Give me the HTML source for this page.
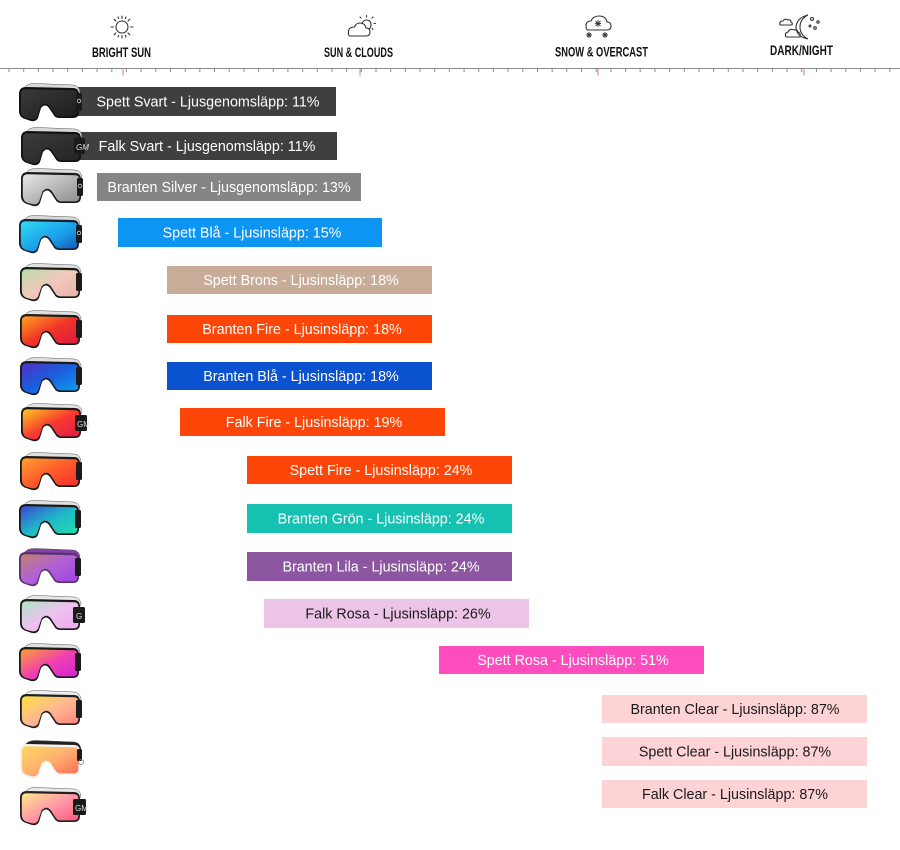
<!DOCTYPE html>
<html><head><meta charset="utf-8">
<style>
html,body{margin:0;padding:0;background:#fff;}
svg{display:block;}
.lbl{font-family:"Liberation Sans",Arial,sans-serif;font-size:14.3px;text-anchor:middle;}
.hd{font-family:"Liberation Sans Narrow","Liberation Sans",sans-serif;font-weight:bold;font-size:14px;fill:#111;}
</style></head>
<body>
<svg width="900" height="850" viewBox="0 0 900 850" xmlns="http://www.w3.org/2000/svg">
<defs>
  <linearGradient id="g1" x1="0" y1="0" x2="1" y2="1"><stop offset="0" stop-color="#3a3a3a"/><stop offset="1" stop-color="#1c1c1c"/></linearGradient>
  <linearGradient id="g2" x1="0" y1="0" x2="1" y2="1"><stop offset="0" stop-color="#3c3c3c"/><stop offset="1" stop-color="#222"/></linearGradient>
  <linearGradient id="g3" x1="0" y1="0" x2="1" y2="1"><stop offset="0" stop-color="#e8e8e8"/><stop offset="0.5" stop-color="#b8b8b8"/><stop offset="1" stop-color="#8a8a8a"/></linearGradient>
  <linearGradient id="g4" x1="0" y1="0" x2="1" y2="1"><stop offset="0" stop-color="#30d8f5"/><stop offset="0.6" stop-color="#1a9ce8"/><stop offset="1" stop-color="#1450b0"/></linearGradient>
  <linearGradient id="g5" x1="0" y1="0" x2="1" y2="1"><stop offset="0" stop-color="#b8dca8"/><stop offset="0.5" stop-color="#f2c8bc"/><stop offset="1" stop-color="#e8b0a8"/></linearGradient>
  <linearGradient id="g6" x1="0" y1="0" x2="1" y2="1"><stop offset="0" stop-color="#ffa020"/><stop offset="0.5" stop-color="#f03428"/><stop offset="1" stop-color="#d81840"/></linearGradient>
  <linearGradient id="g7" x1="0" y1="0" x2="1" y2="1"><stop offset="0" stop-color="#5030c0"/><stop offset="0.5" stop-color="#1860e0"/><stop offset="1" stop-color="#10a0f0"/></linearGradient>
  <linearGradient id="g8" x1="0" y1="0" x2="1" y2="1"><stop offset="0" stop-color="#ffc820"/><stop offset="0.5" stop-color="#f83a30"/><stop offset="1" stop-color="#e01848"/></linearGradient>
  <linearGradient id="g9" x1="0" y1="0" x2="1" y2="1"><stop offset="0" stop-color="#ffa030"/><stop offset="0.5" stop-color="#ff5a2a"/><stop offset="1" stop-color="#f02a30"/></linearGradient>
  <linearGradient id="g10" x1="0" y1="0" x2="1" y2="1"><stop offset="0" stop-color="#3a48d0"/><stop offset="0.5" stop-color="#20b8c8"/><stop offset="1" stop-color="#20e0a8"/></linearGradient>
  <linearGradient id="g11" x1="0" y1="0" x2="1" y2="1"><stop offset="0" stop-color="#c08070"/><stop offset="0.5" stop-color="#b060d8"/><stop offset="1" stop-color="#a040e0"/></linearGradient>
  <linearGradient id="g12" x1="0" y1="0" x2="1" y2="1"><stop offset="0" stop-color="#b0e4c4"/><stop offset="0.5" stop-color="#f0c0f0"/><stop offset="1" stop-color="#e8a8ec"/></linearGradient>
  <linearGradient id="g13" x1="0" y1="0" x2="1" y2="1"><stop offset="0" stop-color="#ffa030"/><stop offset="0.5" stop-color="#f040b0"/><stop offset="1" stop-color="#d020d8"/></linearGradient>
  <linearGradient id="g14" x1="0" y1="0" x2="1" y2="1"><stop offset="0" stop-color="#ffe040"/><stop offset="0.5" stop-color="#ffb890"/><stop offset="1" stop-color="#ff8080"/></linearGradient>
  <linearGradient id="g15" x1="0" y1="0" x2="1" y2="1"><stop offset="0" stop-color="#ffd860"/><stop offset="0.5" stop-color="#ffb070"/><stop offset="1" stop-color="#ff6850"/></linearGradient>
  <linearGradient id="g16" x1="0" y1="0" x2="1" y2="1"><stop offset="0" stop-color="#ffe888"/><stop offset="0.5" stop-color="#ff98a8"/><stop offset="1" stop-color="#ff5078"/></linearGradient>

  <g id="frame">
    <path d="M1,11 Q1,4 8,4 L55,5 Q61,5 61,12 L61,29 Q61,35 55,35 L41,35 Q37,35 35,31 L31,25 Q27,20 23,25 L20,35 Q18,39 13,38 L7,36 Q1,34 1,28 Z"/>
  </g>
  <g id="lens">
    <path d="M2.8,11 Q2.8,6.3 8,6.3 L55,7.3 Q59.4,7.3 59.4,12 L59.4,28.5 Q59.4,33.4 55,33.4 L41.5,33.4 Q38,33.4 36.2,30 L32,23.5 Q27.5,18 22.5,23.5 L19.2,33.2 Q17.5,37 13,36.3 L8,35 Q2.8,33.3 2.8,27.5 Z"/>
  </g>
</defs>

<!-- Header icons -->
<g fill="none" stroke="#333" stroke-width="1.1">
  <circle cx="122" cy="27" r="6"/>
  <g stroke-linecap="round">
    <line x1="122" y1="16" x2="122" y2="18.5"/><line x1="122" y1="35.5" x2="122" y2="38"/>
    <line x1="111" y1="27" x2="113.5" y2="27"/><line x1="130.5" y1="27" x2="133" y2="27"/>
    <line x1="114.2" y1="19.2" x2="116" y2="21"/><line x1="128" y1="33" x2="129.8" y2="34.8"/>
    <line x1="129.8" y1="19.2" x2="128" y2="21"/><line x1="116" y1="33" x2="114.2" y2="34.8"/>
    <line x1="118" y1="17" x2="118.6" y2="18.6"/><line x1="126" y1="17" x2="125.4" y2="18.6"/>
    <line x1="118" y1="37" x2="118.6" y2="35.4"/><line x1="126" y1="37" x2="125.4" y2="35.4"/>
  </g>
  <path d="M350,36 L366,36 Q370,36 370,32 Q370,28 366,28 Q365,23 360,23 Q356,23 354.5,27 Q349,27 348.5,31 Q348,36 350,36 Z"/>
  <path d="M362,24 Q363,20 366.5,20 Q371,20 371,25 Q371,27.5 369,29"/>
  <g stroke-linecap="round"><line x1="366.5" y1="15.5" x2="366.5" y2="17"/><line x1="372" y1="18" x2="373" y2="17"/><line x1="374" y1="23.5" x2="375.5" y2="23.5"/><line x1="361" y1="18" x2="360" y2="17"/><line x1="372" y1="28.5" x2="373" y2="29.5"/></g>
  <path d="M588,30 L607,30 Q611,30 611,26 Q611,22 607,22 Q606,16 599,16 Q593,16 591,21 Q586,21 586,25.5 Q586,30 588,30 Z"/>
  <g stroke-width="0.9"><line x1="598" y1="20" x2="598" y2="27"/><line x1="595" y1="23.5" x2="601" y2="23.5"/><line x1="595.5" y1="21" x2="600.5" y2="26"/><line x1="600.5" y1="21" x2="595.5" y2="26"/>
  <line x1="589" y1="32" x2="589" y2="38"/><line x1="586" y1="35" x2="592" y2="35"/><line x1="587" y1="33" x2="591" y2="37"/><line x1="591" y1="33" x2="587" y2="37"/>
  <line x1="605" y1="32" x2="605" y2="38"/><line x1="602" y1="35" x2="608" y2="35"/><line x1="603" y1="33" x2="607" y2="37"/><line x1="607" y1="33" x2="603" y2="37"/></g>
  <path d="M808,15 Q796,18 796,28 Q797,37 808,39 Q800,35 800,27 Q800,19 808,15 Z"/>
  <path d="M780,25 Q779,21 783,21 Q785,18 788,20 Q791,19 791,22 Q793,23 792,25 Z"/>
  <path d="M786,37 Q784,33 788,32 Q790,28 794,30 Q797,29 798,32 Q801,33 800,37 Z"/>
  <circle cx="812" cy="19" r="1.5"/><circle cx="818" cy="22" r="1.2"/><circle cx="810" cy="26" r="1"/><circle cx="815" cy="28" r="1.3"/>
</g>

<text class="hd" x="92" y="57" textLength="59" lengthAdjust="spacingAndGlyphs">BRIGHT SUN</text>
<text class="hd" x="324" y="57" textLength="69" lengthAdjust="spacingAndGlyphs">SUN &amp; CLOUDS</text>
<text class="hd" x="555" y="56.5" textLength="93" lengthAdjust="spacingAndGlyphs">SNOW &amp; OVERCAST</text>
<text class="hd" x="770" y="55" textLength="63" lengthAdjust="spacingAndGlyphs">DARK/NIGHT</text>

<!-- Ruler -->
<line x1="0" y1="68.5" x2="900" y2="68.5" stroke="#8a8a8a" stroke-width="1"/>
<g stroke="#8a8a8a" stroke-width="1">
<path d="M9,68.5v3.5M23.7,68.5v3.5M38.4,68.5v3.5M53,68.5v3.5M67.7,68.5v3.5M82.4,68.5v3.5M97.1,68.5v3.5M111.8,68.5v3.5M126.4,68.5v3.5M141.1,68.5v3.5M155.8,68.5v3.5M170.5,68.5v3.5M185.2,68.5v3.5M199.8,68.5v3.5M214.5,68.5v3.5M229.2,68.5v3.5M243.9,68.5v3.5M258.6,68.5v3.5M273.2,68.5v3.5M287.9,68.5v3.5M302.6,68.5v3.5M317.3,68.5v3.5M332,68.5v3.5M346.6,68.5v3.5M361.3,68.5v3.5M376,68.5v3.5M390.7,68.5v3.5M405.4,68.5v3.5M420,68.5v3.5M434.7,68.5v3.5M449.4,68.5v3.5M464.1,68.5v3.5M478.8,68.5v3.5M493.4,68.5v3.5M508.1,68.5v3.5M522.8,68.5v3.5M537.5,68.5v3.5M552.2,68.5v3.5M566.8,68.5v3.5M581.5,68.5v3.5M596.2,68.5v3.5M610.9,68.5v3.5M625.6,68.5v3.5M640.2,68.5v3.5M654.9,68.5v3.5M669.6,68.5v3.5M684.3,68.5v3.5M699,68.5v3.5M713.6,68.5v3.5M728.3,68.5v3.5M743,68.5v3.5M757.7,68.5v3.5M772.4,68.5v3.5M787,68.5v3.5M801.7,68.5v3.5M816.4,68.5v3.5M831.1,68.5v3.5M845.8,68.5v3.5M860.4,68.5v3.5M875.1,68.5v3.5M889.8,68.5v3.5"/>
</g>
<g stroke="#e07080" stroke-width="1">
<path d="M123,68.5v7M360,68.5v7M598,68.5v7M804,68.5v7"/>
</g>

<!-- Bars -->
<rect x="72" y="87" width="264" height="29" fill="#3f3f3f"/>
<rect x="73" y="132" width="264" height="28" fill="#3f3f3f"/>
<rect x="97" y="173" width="264" height="28" fill="#858585"/>
<rect x="118" y="218" width="264" height="29" fill="#0c95f2"/>
<rect x="167" y="266" width="265" height="28" fill="#c9ac98"/>
<rect x="167" y="315" width="265" height="28" fill="#fd4607"/>
<rect x="167" y="362" width="265" height="28" fill="#0b52d0"/>
<rect x="180" y="408" width="265" height="28" fill="#fd4607"/>
<rect x="247" y="456" width="265" height="28" fill="#fd4607"/>
<rect x="247" y="504" width="265" height="29" fill="#15c2b2"/>
<rect x="247" y="552" width="265" height="29" fill="#8c57a0"/>
<rect x="264" y="599" width="265" height="29" fill="#ecc4e8"/>
<rect x="439" y="646" width="265" height="28" fill="#fd4cbd"/>
<rect x="602" y="695" width="265" height="28" fill="#fdd3d6"/>
<rect x="602" y="737" width="265" height="29" fill="#fdd3d6"/>
<rect x="602" y="780" width="265" height="28" fill="#fdd3d6"/>

<g>
<text class="lbl" x="208" y="106.5" fill="#fff">Spett Svart - Ljusgenomsläpp: 11%</text>
<text class="lbl" x="207" y="151" fill="#fff">Falk Svart - Ljusgenomsläpp: 11%</text>
<text class="lbl" x="229" y="192" fill="#fff">Branten Silver - Ljusgenomsläpp: 13%</text>
<text class="lbl" x="252" y="237.5" fill="#fff">Spett Blå - Ljusinsläpp: 15%</text>
<text class="lbl" x="301" y="285" fill="#fff">Spett Brons - Ljusinsläpp: 18%</text>
<text class="lbl" x="302" y="334" fill="#fff">Branten Fire - Ljusinsläpp: 18%</text>
<text class="lbl" x="301" y="381" fill="#fff">Branten Blå - Ljusinsläpp: 18%</text>
<text class="lbl" x="314" y="427" fill="#fff">Falk Fire - Ljusinsläpp: 19%</text>
<text class="lbl" x="381" y="475" fill="#fff">Spett Fire - Ljusinsläpp: 24%</text>
<text class="lbl" x="381" y="523.5" fill="#fff">Branten Grön - Ljusinsläpp: 24%</text>
<text class="lbl" x="381" y="571.5" fill="#fff">Branten Lila - Ljusinsläpp: 24%</text>
<text class="lbl" x="398" y="618.5" fill="#1a1a1a">Falk Rosa - Ljusinsläpp: 26%</text>
<text class="lbl" x="573" y="665" fill="#fff">Spett Rosa - Ljusinsläpp: 51%</text>
<text class="lbl" x="735" y="714" fill="#1a1a1a">Branten Clear - Ljusinsläpp: 87%</text>
<text class="lbl" x="735" y="756.5" fill="#1a1a1a">Spett Clear - Ljusinsläpp: 87%</text>
<text class="lbl" x="735" y="799" fill="#1a1a1a">Falk Clear - Ljusinsläpp: 87%</text>
</g>

<!-- Goggles -->
<g id="goggles">
  <g transform="translate(18,83)">
    <path d="M6,5 Q9,0 18,0.5 L55,2 Q61,2.5 62,9 L61,11 Q59,6 53,6 L8,6 Z" fill="#d8d8d8" stroke="#555" stroke-width="0.5"/>
    <use href="#frame" fill="#111"/><use href="#lens" fill="url(#g1)"/>
    <rect x="58" y="10" width="6" height="18" rx="1.5" fill="#1a1a1a"/><circle cx="61" cy="18" r="1.8" fill="none" stroke="#ccc" stroke-width="0.8"/>
  </g>
  <g transform="translate(20,127)">
    <path d="M6,5 Q9,0 18,0.5 L55,2 Q61,2.5 62,9 L61,11 Q59,6 53,6 L8,6 Z" fill="#d8d8d8" stroke="#555" stroke-width="0.5"/>
    <use href="#frame" fill="#111"/><use href="#lens" fill="url(#g2)"/>
    <rect x="54" y="11" width="11" height="16" rx="1.5" fill="#1a1a1a"/><text x="56" y="23" font-family="Liberation Sans" font-size="8" font-style="italic" fill="#ddd">GM</text>
  </g>
  <g transform="translate(20,168)">
    <path d="M6,5 Q9,0 18,0.5 L55,2 Q61,2.5 62,9 L61,11 Q59,6 53,6 L8,6 Z" fill="#dcdcdc" stroke="#555" stroke-width="0.5"/>
    <use href="#frame" fill="#1a1a1a"/><use href="#lens" fill="url(#g3)"/>
    <rect x="57" y="10" width="6" height="18" rx="1.5" fill="#1a1a1a"/><circle cx="60" cy="18" r="1.8" fill="none" stroke="#ccc" stroke-width="0.8"/>
  </g>
  <g transform="translate(18,215)">
    <path d="M6,5 Q9,0 18,0.5 L55,2 Q61,2.5 62,9 L61,11 Q59,6 53,6 L8,6 Z" fill="#d8d8d8" stroke="#555" stroke-width="0.5"/>
    <use href="#frame" fill="#16202e"/><use href="#lens" fill="url(#g4)"/>
    <rect x="58" y="10" width="6" height="18" rx="1.5" fill="#1a1a1a"/><circle cx="61" cy="18" r="1.8" fill="none" stroke="#ccc" stroke-width="0.8"/>
  </g>
  <g transform="translate(19,263)">
    <path d="M6,5 Q9,0 18,0.5 L55,2 Q61,2.5 62,9 L61,11 Q59,6 53,6 L8,6 Z" fill="#e0e0e0" stroke="#555" stroke-width="0.5"/>
    <use href="#frame" fill="#1a1a1a"/><use href="#lens" fill="url(#g5)"/>
    <rect x="57" y="10" width="6" height="18" rx="1.5" fill="#1a1a1a"/>
  </g>
  <g transform="translate(19,310)">
    <path d="M6,5 Q9,0 18,0.5 L55,2 Q61,2.5 62,9 L61,11 Q59,6 53,6 L8,6 Z" fill="#e0e0e0" stroke="#555" stroke-width="0.5"/>
    <use href="#frame" fill="#1a1a1a"/><use href="#lens" fill="url(#g6)"/>
    <rect x="57" y="10" width="6" height="18" rx="1.5" fill="#1a1a1a"/>
  </g>
  <g transform="translate(19,357)">
    <path d="M6,5 Q9,0 18,0.5 L55,2 Q61,2.5 62,9 L61,11 Q59,6 53,6 L8,6 Z" fill="#e0e0e0" stroke="#555" stroke-width="0.5"/>
    <use href="#frame" fill="#1a1a1a"/><use href="#lens" fill="url(#g7)"/>
    <rect x="57" y="10" width="6" height="18" rx="1.5" fill="#1a1a1a"/>
  </g>
  <g transform="translate(20,403)">
    <path d="M6,5 Q9,0 18,0.5 L55,2 Q61,2.5 62,9 L61,11 Q59,6 53,6 L8,6 Z" fill="#e4e4e4" stroke="#555" stroke-width="0.5"/>
    <use href="#frame" fill="#1a1a1a"/><use href="#lens" fill="url(#g8)"/>
    <rect x="55" y="12" width="12" height="16" rx="1.5" fill="#1a1a1a"/><text x="57" y="24" font-family="Liberation Sans" font-size="8" fill="#ddd">GM</text>
  </g>
  <g transform="translate(19,452)">
    <path d="M6,5 Q9,0 18,0.5 L55,2 Q61,2.5 62,9 L61,11 Q59,6 53,6 L8,6 Z" fill="#e0e0e0" stroke="#555" stroke-width="0.5"/>
    <use href="#frame" fill="#1a1a1a"/><use href="#lens" fill="url(#g9)"/>
    <rect x="57" y="10" width="6" height="18" rx="1.5" fill="#1a1a1a"/>
  </g>
  <g transform="translate(18,500)">
    <path d="M6,5 Q9,0 18,0.5 L55,2 Q61,2.5 62,9 L61,11 Q59,6 53,6 L8,6 Z" fill="#e0e0e0" stroke="#555" stroke-width="0.5"/>
    <use href="#frame" fill="#1a1a1a"/><use href="#lens" fill="url(#g10)"/>
    <rect x="57" y="10" width="6" height="18" rx="1.5" fill="#1a1a1a"/>
  </g>
  <g transform="translate(18,548)">
    <path d="M6,5 Q9,0 18,0.5 L55,2 Q61,2.5 62,9 L61,11 Q59,6 53,6 L8,6 Z" fill="#8040a8" stroke="#555" stroke-width="0.5"/>
    <use href="#frame" fill="#5a3070"/><use href="#lens" fill="url(#g11)"/>
    <rect x="57" y="10" width="6" height="18" rx="1.5" fill="#1a1a1a"/>
  </g>
  <g transform="translate(19,595)">
    <path d="M6,5 Q9,0 18,0.5 L55,2 Q61,2.5 62,9 L61,11 Q59,6 53,6 L8,6 Z" fill="#e8e8e8" stroke="#555" stroke-width="0.5"/>
    <use href="#frame" fill="#1a1a1a"/><use href="#lens" fill="url(#g12)"/>
    <rect x="54" y="12" width="12" height="16" rx="1.5" fill="#1a1a1a"/><text x="57" y="24" font-family="Liberation Sans" font-size="8" fill="#ddd">G</text>
  </g>
  <g transform="translate(18,643)">
    <path d="M6,5 Q9,0 18,0.5 L55,2 Q61,2.5 62,9 L61,11 Q59,6 53,6 L8,6 Z" fill="#e0e0e0" stroke="#555" stroke-width="0.5"/>
    <use href="#frame" fill="#1a1a1a"/><use href="#lens" fill="url(#g13)"/>
    <rect x="57" y="10" width="6" height="18" rx="1.5" fill="#1a1a1a"/>
  </g>
  <g transform="translate(19,690)">
    <path d="M6,5 Q9,0 18,0.5 L55,2 Q61,2.5 62,9 L61,11 Q59,6 53,6 L8,6 Z" fill="#eee" stroke="#555" stroke-width="0.5"/>
    <use href="#frame" fill="#222"/><use href="#lens" fill="url(#g14)"/>
    <rect x="57" y="10" width="6" height="18" rx="1.5" fill="#1a1a1a"/>
  </g>
  <g transform="translate(19,740)">
    <path d="M6,5 Q9,0 18,0.5 L55,2 Q61,2.5 62,9 L61,11 Q59,6 53,6 L8,6 Z" fill="#222" stroke="#555" stroke-width="0.5"/>
    <use href="#frame" fill="#f4f4f4"/><use href="#lens" fill="url(#g15)"/>
    <rect x="58" y="9" width="5" height="12" rx="1.5" fill="#1a1a1a"/><circle cx="62" cy="22" r="2.5" fill="none" stroke="#777" stroke-width="0.7"/>
  </g>
  <g transform="translate(19,787)">
    <path d="M6,5 Q9,0 18,0.5 L55,2 Q61,2.5 62,9 L61,11 Q59,6 53,6 L8,6 Z" fill="#e8e8e8" stroke="#555" stroke-width="0.5"/>
    <use href="#frame" fill="#222"/><use href="#lens" fill="url(#g16)"/>
    <rect x="54" y="12" width="13" height="16" rx="1.5" fill="#1a1a1a"/><text x="56" y="24" font-family="Liberation Sans" font-size="8" fill="#ddd">GM</text>
  </g>
</g>
</svg>
</body></html>
